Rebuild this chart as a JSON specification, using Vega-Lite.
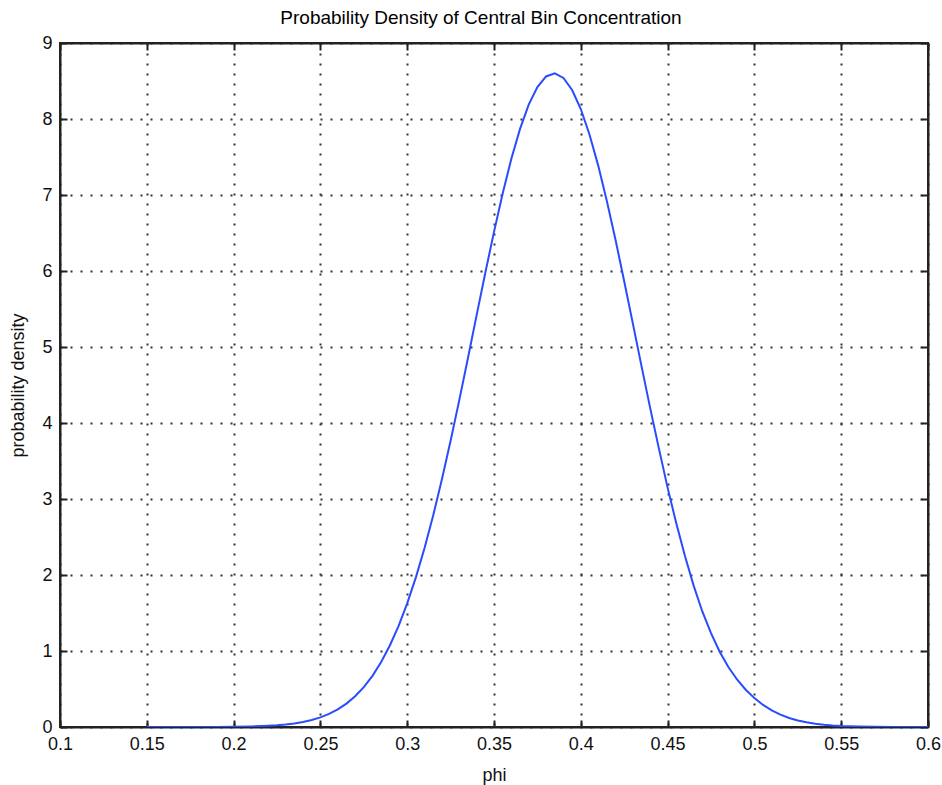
{
  "$schema": "https://vega.github.io/schema/vega-lite/v6.json",
  "autosize": "none",
  "width": 868,
  "height": 684,
  "padding": {"left": 60, "top": 43, "right": 14, "bottom": 58},
  "background": "white",
  "title": {"text": "Probability Density of Central Bin Concentration", "font": "Liberation Sans", "fontSize": 19, "fontWeight": "normal", "color": "#000", "offset": 6, "dx": -13},
  "config": {
    "view": {"stroke": "#222", "strokeWidth": 2},
    "axis": {"labelFont": "Liberation Sans", "labelFontSize": 18, "labelColor": "#111", "titleFont": "Liberation Sans", "titleFontSize": 18, "titleFontWeight": "normal", "titleColor": "#111", "domainColor": "#222", "domainWidth": 2, "tickColor": "#222", "tickWidth": 2, "tickSize": -7, "grid": true, "gridColor": "#333", "gridDash": [2, 8], "gridWidth": 2, "labelFlush": false, "labelOverlap": false}
  },
  "data": {"values": [
    {"phi": 0.15, "density": 0.0},
    {"phi": 0.16, "density": 0.0},
    {"phi": 0.17, "density": 0.0},
    {"phi": 0.18, "density": 0.0},
    {"phi": 0.19, "density": 0.001},
    {"phi": 0.2, "density": 0.003},
    {"phi": 0.21, "density": 0.007},
    {"phi": 0.22, "density": 0.016},
    {"phi": 0.225, "density": 0.023},
    {"phi": 0.23, "density": 0.033},
    {"phi": 0.235, "density": 0.047},
    {"phi": 0.24, "density": 0.066},
    {"phi": 0.245, "density": 0.092},
    {"phi": 0.25, "density": 0.126},
    {"phi": 0.255, "density": 0.172},
    {"phi": 0.26, "density": 0.232},
    {"phi": 0.265, "density": 0.308},
    {"phi": 0.27, "density": 0.404},
    {"phi": 0.275, "density": 0.525},
    {"phi": 0.28, "density": 0.673},
    {"phi": 0.285, "density": 0.855},
    {"phi": 0.29, "density": 1.072},
    {"phi": 0.295, "density": 1.328},
    {"phi": 0.3, "density": 1.627},
    {"phi": 0.305, "density": 1.969},
    {"phi": 0.31, "density": 2.356},
    {"phi": 0.315, "density": 2.786},
    {"phi": 0.32, "density": 3.261},
    {"phi": 0.325, "density": 3.766},
    {"phi": 0.33, "density": 4.301},
    {"phi": 0.335, "density": 4.856},
    {"phi": 0.34, "density": 5.419},
    {"phi": 0.345, "density": 5.977},
    {"phi": 0.35, "density": 6.515},
    {"phi": 0.355, "density": 7.02},
    {"phi": 0.36, "density": 7.477},
    {"phi": 0.365, "density": 7.87},
    {"phi": 0.37, "density": 8.189},
    {"phi": 0.375, "density": 8.42},
    {"phi": 0.38, "density": 8.56},
    {"phi": 0.385, "density": 8.6},
    {"phi": 0.39, "density": 8.54},
    {"phi": 0.395, "density": 8.382},
    {"phi": 0.4, "density": 8.131},
    {"phi": 0.405, "density": 7.797},
    {"phi": 0.41, "density": 7.39},
    {"phi": 0.415, "density": 6.922},
    {"phi": 0.42, "density": 6.41},
    {"phi": 0.425, "density": 5.866},
    {"phi": 0.43, "density": 5.307},
    {"phi": 0.435, "density": 4.745},
    {"phi": 0.44, "density": 4.193},
    {"phi": 0.445, "density": 3.663},
    {"phi": 0.45, "density": 3.15},
    {"phi": 0.455, "density": 2.68},
    {"phi": 0.46, "density": 2.25},
    {"phi": 0.465, "density": 1.86},
    {"phi": 0.47, "density": 1.52},
    {"phi": 0.475, "density": 1.235},
    {"phi": 0.48, "density": 0.99},
    {"phi": 0.485, "density": 0.79},
    {"phi": 0.49, "density": 0.625},
    {"phi": 0.495, "density": 0.49},
    {"phi": 0.5, "density": 0.38},
    {"phi": 0.505, "density": 0.29},
    {"phi": 0.51, "density": 0.218},
    {"phi": 0.515, "density": 0.162},
    {"phi": 0.52, "density": 0.119},
    {"phi": 0.525, "density": 0.086},
    {"phi": 0.53, "density": 0.062},
    {"phi": 0.535, "density": 0.044},
    {"phi": 0.54, "density": 0.031},
    {"phi": 0.545, "density": 0.021},
    {"phi": 0.55, "density": 0.014},
    {"phi": 0.56, "density": 0.007},
    {"phi": 0.57, "density": 0.003},
    {"phi": 0.58, "density": 0.001},
    {"phi": 0.59, "density": 0.0},
    {"phi": 0.6, "density": 0.0}
  ]},
  "layer": [
    {
      "mark": {"type": "line", "color": "#2a4cff", "strokeWidth": 2, "clip": true},
      "encoding": {
        "x": {"field": "phi", "type": "quantitative", "scale": {"domain": [0.1, 0.6], "nice": false, "zero": false}, "axis": {"title": "phi", "values": [0.1, 0.15, 0.2, 0.25, 0.3, 0.35, 0.4, 0.45, 0.5, 0.55, 0.6], "format": "~g", "labelPadding": 15, "titlePadding": 13}},
        "y": {"field": "density", "type": "quantitative", "scale": {"domain": [0, 9], "nice": false}, "axis": {"title": "probability density", "values": [0, 1, 2, 3, 4, 5, 6, 7, 8, 9], "labelPadding": 15, "titlePadding": 14}}
      }
    },
    {
      "mark": {"type": "line", "opacity": 0},
      "encoding": {
        "x": {"field": "phi", "type": "quantitative", "axis": {"orient": "top", "labels": false, "title": null, "grid": false, "values": [0.1, 0.15, 0.2, 0.25, 0.3, 0.35, 0.4, 0.45, 0.5, 0.55, 0.6]}},
        "y": {"field": "density", "type": "quantitative", "axis": {"orient": "right", "labels": false, "title": null, "grid": false, "values": [0, 1, 2, 3, 4, 5, 6, 7, 8, 9]}}
      }
    }
  ],
  "resolve": {"axis": {"x": "independent", "y": "independent"}}
}
